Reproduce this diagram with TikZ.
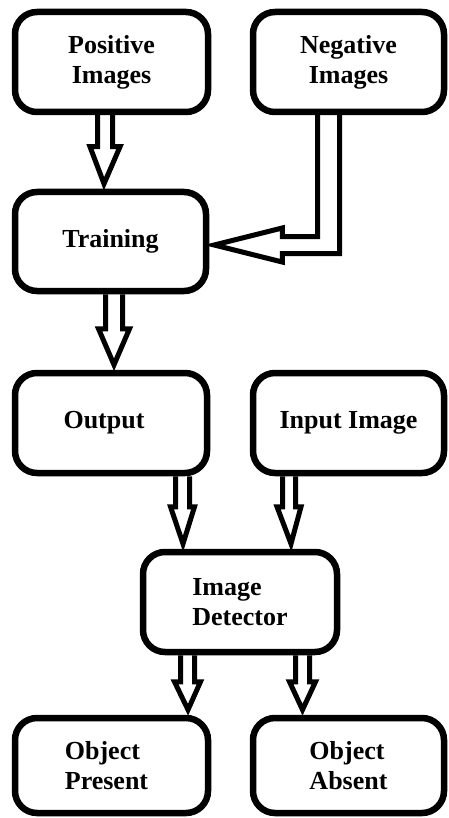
\documentclass[tikz,border=0pt]{standalone}
\usepackage{fontspec}
\setmainfont{Liberation Serif}
\usetikzlibrary{calc}
\tikzset{
  box/.style={draw, line width=6.5pt, rounded corners=22pt, inner sep=0pt,
    minimum width=193pt, minimum height=100pt,
    font=\fontsize{26}{30}\selectfont\bfseries, align=center},
  harrow/.style={draw, line width=5pt, line join=miter, miter limit=12}
}
\newcommand\hollowdown[6]{%
  \draw[harrow] let \p1=(#1), \p2=(#2) in
    (\x1-#3,\y1) -- (\x1-#3,\y2+#5) -- (\x1-#4,\y2+#5) -- (\x2,\y2+#6)
    -- (\x1+#4,\y2+#5) -- (\x1+#3,\y2+#5) -- (\x1+#3,\y1);}
\begin{document}
\begin{tikzpicture}[x=1pt,y=-1pt]
\useasboundingbox (0,0) rectangle (448,818);
\fill[white] (0,0) rectangle (448,818);
% boxes
\node[box] (pos) at (111.5,62) {Positive\\Images};
\node[box, minimum width=191pt] (neg) at (348.5,62) {Negative\\Images};
\node[box, minimum width=191pt, minimum height=99pt] (train) at (110.5,241.5) {Training};
\node[box, minimum width=192pt] (out) at (111,423) {Output\hspace*{14pt}};
\node[box, minimum width=191pt] (inp) at (348.5,423) {Input Image};
\node[box, minimum width=194pt, align=left] (det) at (240,602) {Image\\Detector};
\node[box, minimum height=95pt, align=left] (pres) at (111.5,765.5) {Object\\Present\hspace*{10pt}};
\node[box, minimum width=191pt, minimum height=95pt, align=left] (abs) at (348.5,765.5) {Object\\Absent};
% anchor coordinates for arrows
\coordinate (a1s) at ($(pos.south)+(-6.5,0)$);
\coordinate (a1e) at ($(train.north)+(-6.5,0)$);
\coordinate (a2s) at ($(train.south)+(3.5,0)$);
\coordinate (a2e) at ($(out.north)+(3,0)$);
\coordinate (a3s) at ($(out.south)+(71.5,0)$);
\coordinate (a3e) at ($(det.north)+(-57,0)$);
\coordinate (a4s) at ($(inp.south)+(-59.5,0)$);
\coordinate (a4e) at ($(det.north)+(51,0)$);
\coordinate (a5s) at ($(det.south)+(-52.5,0)$);
\coordinate (a5e) at ($(pres.north)+(76.5,0)$);
\coordinate (a6s) at ($(det.south)+(62.5,0)$);
\coordinate (a6e) at ($(abs.north)+(-46,0)$);
\coordinate (ns) at ($(neg.south)+(-20,0)$);
\coordinate (te) at ($(train.east)+(0,3.5)$);
% hollow arrows
\hollowdown{a1s}{a1e}{7.5pt}{15pt}{42pt}{5pt}
\hollowdown{a2s}{a2e}{8.5pt}{15.5pt}{41pt}{5pt}
\hollowdown{a3s}{a3e}{7pt}{12pt}{42pt}{5pt}
\hollowdown{a4s}{a4e}{6.5pt}{12pt}{42pt}{5pt}
\hollowdown{a5s}{a5e}{7pt}{13pt}{33pt}{5pt}
\hollowdown{a6s}{a6e}{7pt}{13pt}{33pt}{5pt}
\draw[harrow] let \p1=(ns), \p2=(te) in
  (\x1-11pt,\y1) -- (\x1-11pt,\y2+8.5pt) -- (\x2+73pt,\y2+8.5pt)
  -- (\x2+73pt,\y2+17pt) -- (\x2+5pt,\y2) -- (\x2+73pt,\y2-17pt)
  -- (\x2+73pt,\y2-8.5pt) -- (\x1+11pt,\y2-8.5pt) -- (\x1+11pt,\y1);
\end{tikzpicture}
\end{document}
